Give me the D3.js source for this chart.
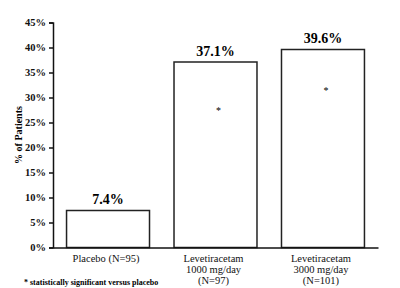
<!DOCTYPE html>
<html>
<head>
<meta charset="utf-8">
<script src="https://cdn.jsdelivr.net/npm/d3@7"></script>
<style>
  body { margin: 0; background: #fff; }
  svg, svg text { font-family: 'Times New Roman', Times, 'Liberation Serif', 'DejaVu Serif', serif !important; }
</style>
</head>
<body>
<div id="chart"></div>
<script>
// data
const categories = ['Placebo (N=95)', 'Levetiracetam\n1000 mg/day\n(N=97)', 'Levetiracetam\n3000 mg/day\n(N=101)'];
const values = [7.4, 37.1, 39.6];
const valueLabels = ['7.4%', '37.1%', '39.6%'];
const starAt = [null, 27.7, 31.7]; // where the significance asterisk sits
const yTicks = [0, 5, 10, 15, 20, 25, 30, 35, 40, 45];

const width = 400, height = 288;
const margin = { top: 22.5, right: 22, bottom: 40.5, left: 53 };

const svg = d3.select('#chart')
  .append('svg')
  .attr('width', width)
  .attr('height', height);

const x = d3.scaleBand()
  .domain(categories)
  .range([margin.left, width - margin.right])
  .paddingInner(0.228)
  .paddingOuter(0.126);

const y = d3.scaleLinear()
  .domain([0, 45])
  .range([height - margin.bottom, margin.top]);

// bars
svg.selectAll('rect.bar')
  .data(values)
  .enter()
  .append('rect')
  .attr('class', 'bar')
  .attr('x', (d, i) => x(categories[i]))
  .attr('y', d => y(d))
  .attr('width', x.bandwidth())
  .attr('height', d => y(0) - y(d))
  .attr('fill', '#fff')
  .attr('stroke', '#222')
  .attr('stroke-width', 1.5);

// value labels
svg.selectAll('text.val')
  .data(values)
  .enter()
  .append('text')
  .attr('class', 'val')
  .attr('x', (d, i) => x(categories[i]) + x.bandwidth() / 2)
  .attr('y', d => y(d) - 6.5)
  .attr('text-anchor', 'middle')
  .style('font-size', '14px')
  .style('font-weight', 'bold')
  .text((d, i) => valueLabels[i]);

// asterisks
svg.selectAll('text.star')
  .data(starAt.map((s, i) => ({ s, i })).filter(d => d.s != null))
  .enter()
  .append('text')
  .attr('class', 'star')
  .attr('x', d => x(categories[d.i]) + x.bandwidth() / 2 + 3)
  .attr('y', d => y(d.s) + 5)
  .attr('text-anchor', 'middle')
  .style('font-size', '10px')
  .text('*');

// y axis
const yAxis = svg.append('g')
  .attr('transform', `translate(${margin.left},0)`)
  .call(d3.axisLeft(y).tickValues(yTicks).tickFormat(d => d + '%').tickSize(4).tickPadding(3));
yAxis.select('.domain').attr('stroke', '#111').attr('stroke-width', 1.5);
yAxis.selectAll('.tick line').attr('stroke', '#111').attr('stroke-width', 1.5);
yAxis.selectAll('.tick text')
  .attr('fill', '#111')
  .style('font-size', '10.5px')
  .style('font-weight', 'bold');

// x axis
const xAxis = svg.append('g')
  .attr('transform', `translate(0,${y(0)})`)
  .call(d3.axisBottom(x).tickSize(0).tickFormat(''));
xAxis.select('.domain').attr('stroke', '#111').attr('stroke-width', 1.5);

// category labels (multi-line)
xAxis.selectAll('.tick').each(function(d) {
  const t = d3.select(this).append('text')
    .attr('fill', '#111')
    .attr('text-anchor', 'middle')
    .style('font-size', '10.5px');
  d.split('\n').forEach((line, i) => {
    t.append('tspan')
      .attr('x', -2)
      .attr('y', 14 + i * 11)
      .text(line);
  });
});

// y axis title
svg.append('text')
  .attr('transform', `translate(22,${(margin.top + y(0)) / 2}) rotate(-90)`)
  .attr('text-anchor', 'middle')
  .style('font-size', '10px')
  .style('font-weight', 'bold')
  .text('% of Patients');

// footnote
svg.append('text')
  .attr('x', 24)
  .attr('y', 285)
  .style('font-size', '8px')
  .style('font-weight', 'bold')
  .text('* statistically significant versus placebo');
</script>
</body>
</html>
